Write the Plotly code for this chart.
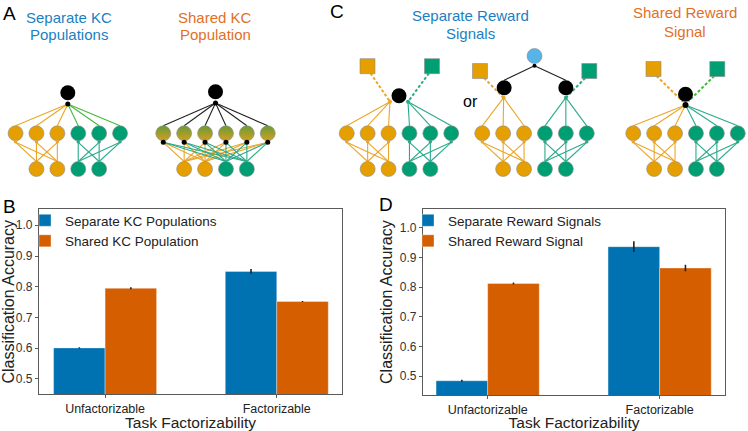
import plotly.graph_objects as go

# ---------------- data ----------------
categories = ["Unfactorizable", "Factorizable"]

kc_separate = [0.601, 0.850]
kc_separate_err = [0.002, 0.008]
kc_shared = [0.795, 0.752]
kc_shared_err = [0.003, 0.002]

reward_separate = [0.484, 0.936]
reward_separate_err = [0.003, 0.018]
reward_shared = [0.812, 0.864]
reward_shared_err = [0.003, 0.011]

ytick_vals = [0.5, 0.6, 0.7, 0.8, 0.9, 1.0]

# ---------------- styles ----------------
FONT = "Liberation Sans, Arial, sans-serif"
BLUE = "#0072B2"
VERM = "#D55E00"
ORANGE = "#E69F00"
GREEN = "#009E73"
SKY = "#56B4E9"
LINE_OR = "#EBA62A"
LINE_GR = "#2AAA8A"
LINE_BRIGHT = "#48B83E"
TITLE_BLUE = "#1b7fc2"
TITLE_OR = "#e2701f"
OUTLINE = dict(color="#8a8a8a", width=0.6)

fig = go.Figure()

# ---------------- bar charts ----------------
def add_bars(xa, ya, leg, s1, e1, s2, e2, n1, n2):
    fig.add_trace(go.Bar(x=categories, y=s1, name=n1, xaxis=xa, yaxis=ya, legend=leg,
                         marker=dict(color=BLUE, line=dict(color="rgba(255,255,255,0.35)", width=1)),
                         error_y=dict(type="data", array=e1, color="#222", thickness=1.6, width=0)))
    fig.add_trace(go.Bar(x=categories, y=s2, name=n2, xaxis=xa, yaxis=ya, legend=leg,
                         marker=dict(color=VERM, line=dict(color="rgba(255,255,255,0.35)", width=1)),
                         error_y=dict(type="data", array=e2, color="#222", thickness=1.6, width=0)))

add_bars("x", "y", "legend", kc_separate, kc_separate_err, kc_shared, kc_shared_err,
         "Separate KC Populations", "Shared KC Population")
add_bars("x2", "y2", "legend2", reward_separate, reward_separate_err, reward_shared, reward_shared_err,
         "Separate Reward Signals", "Shared Reward Signal")

# ---------------- network diagrams (pixel-like coordinate system on x3/y3) ----------------
SP = 20.9       # spacing between neighbouring KC nodes
NODE = 15       # node diameter
MID_Y = 133.3
BOT_Y = 169.0


def row_x(cx, n):
    return [cx + (i - (n - 1) / 2) * SP for i in range(n)]


def seg_trace(segs, color, width=1.1, dash=None):
    xs, ys = [], []
    for (x0, y0, x1, y1) in segs:
        xs += [x0, x1, None]
        ys += [y0, y1, None]
    fig.add_trace(go.Scatter(x=xs, y=ys, mode="lines", xaxis="x3", yaxis="y3",
                             line=dict(color=color, width=width, dash=dash),
                             hoverinfo="skip", showlegend=False))


def node_trace(xs, ys, colors, size=NODE, symbol="circle", line=OUTLINE, gradient=None):
    m = dict(color=colors, size=size, symbol=symbol, line=line)
    if gradient:
        m["gradient"] = gradient
    fig.add_trace(go.Scatter(x=xs, y=ys, mode="markers", xaxis="x3", yaxis="y3",
                             marker=m, hoverinfo="skip", showlegend=False))


def lower_layer(cx, shared):
    mids = row_x(cx, 6)
    bots = row_x(cx, 4)
    dot_y = MID_Y + 9
    or_segs, gr_segs = [], []
    for j, bx in enumerate(bots):
        targets = range(6) if shared else (range(0, 3) if j < 2 else range(3, 6))
        for i in targets:
            seg = (bx, BOT_Y - NODE / 2, mids[i], dot_y)
            (or_segs if j < 2 else gr_segs).append(seg)
    seg_trace(or_segs, LINE_OR, 1.1)
    seg_trace(gr_segs, LINE_GR, 1.1)
    return mids, bots, dot_y


def draw_kc_rows(cx, mids, bots, dot_y, shared):
    if shared:
        node_trace(mids, [MID_Y] * 6, "#6a9a38",
                   gradient=dict(type="vertical", color="#d2a01e"))
        node_trace(mids, [dot_y] * 6, "black", size=5, line=dict(width=0))
    else:
        node_trace(mids, [MID_Y] * 6, [ORANGE] * 3 + [GREEN] * 3)
        node_trace(mids, [dot_y - 0.5] * 6, [LINE_OR] * 3 + [LINE_GR] * 3, size=3.5, line=dict(width=0))
    node_trace(bots, [BOT_Y] * 4, [ORANGE, ORANGE, GREEN, GREEN])


# ---- Panel A, left: separate KC populations
cx = 67.8
mids, bots, dot_y = lower_layer(cx, False)
top_y, tdot_y = 92.7, 104.0
seg_trace([(cx, tdot_y, m, MID_Y - NODE / 2) for m in mids[:3]], LINE_OR)
seg_trace([(cx, tdot_y, m, MID_Y - NODE / 2) for m in mids[3:]], LINE_BRIGHT)
draw_kc_rows(cx, mids, bots, dot_y, False)
node_trace([cx], [top_y], "black", line=dict(width=0))
node_trace([cx], [tdot_y], "black", size=5, line=dict(width=0))

# ---- Panel A, right: shared KC population
cx = 215.5
mids, bots, dot_y = lower_layer(cx, True)
top_y, tdot_y = 91.7, 103.0
seg_trace([(cx, tdot_y, m, MID_Y - NODE / 2) for m in mids], "#222222")
draw_kc_rows(cx, mids, bots, dot_y, True)
node_trace([cx], [top_y], "black", line=dict(width=0))
node_trace([cx], [tdot_y], "black", size=5, line=dict(width=0))

# ---- Panel C, left: separate reward signals (single MBON)
cx = 399.0
mids, bots, dot_y = lower_layer(cx, False)
top_y = 95.7
odot, gdot = (cx - 9, 101.7), (cx + 9, 101.7)
sq_or, sq_gr = (cx - 31.5, 66.2), (cx + 33, 66.2)
seg_trace([(odot[0], odot[1], m, MID_Y - NODE / 2) for m in mids[:3]], LINE_OR)
seg_trace([(gdot[0], gdot[1], m, MID_Y - NODE / 2) for m in mids[3:]], LINE_GR)
seg_trace([(sq_or[0] + 3, sq_or[1] + 7, odot[0], odot[1])], LINE_OR, 2, "3px,2px")
seg_trace([(sq_gr[0] - 3, sq_gr[1] + 7, gdot[0], gdot[1])], LINE_GR, 2, "3px,2px")
draw_kc_rows(cx, mids, bots, dot_y, False)
node_trace([cx], [top_y], "black", line=dict(width=0))
node_trace([odot[0], gdot[0]], [odot[1], gdot[1]], [LINE_OR, LINE_GR], size=4, line=dict(width=0))
node_trace([sq_or[0], sq_gr[0]], [sq_or[1], sq_gr[1]], [ORANGE, GREEN], size=15, symbol="square")

# ---- Panel C, middle: separate reward signals (two MBONs + readout)
cx = 534.5
mids, bots, dot_y = lower_layer(cx, False)
blue_y, bdot_y, mb_y = 56.0, 65.7, 87.7
mb_l, mb_r = mids[1] + 1, mids[4]
odot, gdot = (mb_l - 0.5, 97.7), (mb_r, 97.7)
sq_or, sq_gr = (480.0, 71.0), (589.3, 71.0)
seg_trace([(cx, bdot_y, mb_l, mb_y - NODE / 2), (cx, bdot_y, mb_r, mb_y - NODE / 2)], "#222222")
seg_trace([(odot[0], odot[1], m, MID_Y - NODE / 2) for m in mids[:3]], LINE_OR)
seg_trace([(gdot[0], gdot[1], m, MID_Y - NODE / 2) for m in mids[3:]], LINE_GR)
seg_trace([(sq_or[0] + 4, sq_or[1] + 7, odot[0], odot[1])], LINE_OR, 2, "3px,2px")
seg_trace([(sq_gr[0] - 4, sq_gr[1] + 7, gdot[0], gdot[1])], LINE_GR, 2, "3px,2px")
draw_kc_rows(cx, mids, bots, dot_y, False)
node_trace([mb_l, mb_r], [mb_y, mb_y], "black", line=dict(width=0))
node_trace([cx], [blue_y], SKY)
node_trace([cx], [bdot_y], "black", size=4, line=dict(width=0))
node_trace([odot[0], gdot[0]], [odot[1], gdot[1]], [LINE_OR, LINE_GR], size=4, line=dict(width=0))
node_trace([sq_or[0], sq_gr[0]], [sq_or[1], sq_gr[1]], [ORANGE, GREEN], size=15, symbol="square")

# ---- Panel C, right: shared reward signal
cx = 685.5
mids, bots, dot_y = lower_layer(cx, False)
top_y, tdot_y = 94.3, 105.0
sq_or, sq_gr = (653.5, 69.0), (717.3, 69.0)
seg_trace([(cx, tdot_y, m, MID_Y - NODE / 2) for m in mids[:3]], LINE_OR)
seg_trace([(cx, tdot_y, m, MID_Y - NODE / 2) for m in mids[3:]], LINE_GR)
seg_trace([(sq_or[0] + 3, sq_or[1] + 7, cx - 2.5, 101.7)], LINE_OR, 2, "3px,2px")
seg_trace([(sq_gr[0] - 3, sq_gr[1] + 7, cx + 3, 101.2)], LINE_BRIGHT, 2, "3px,2px")
draw_kc_rows(cx, mids, bots, dot_y, False)
node_trace([cx], [top_y], "black", line=dict(width=0))
node_trace([cx], [tdot_y], "black", size=6, line=dict(width=0))
node_trace([sq_or[0], sq_gr[0]], [sq_or[1], sq_gr[1]], [ORANGE, GREEN], size=15, symbol="square")

# ---------------- text ----------------
texts = [
    ("A", 9, 13, 19, "black"), ("B", 9, 206.5, 19, "black"),
    ("C", 337, 11, 19, "black"), ("D", 385.5, 204, 19, "black"),
    ("Separate KC", 68.5, 17, 15, TITLE_BLUE), ("Populations", 68.5, 34, 15, TITLE_BLUE),
    ("Shared KC", 215, 17, 15, TITLE_OR), ("Population", 215, 34, 15, TITLE_OR),
    ("Separate Reward", 470, 15.7, 15, TITLE_BLUE), ("Signals", 470, 33.3, 15, TITLE_BLUE),
    ("Shared Reward", 685, 12.7, 15, TITLE_OR), ("Signal", 685, 31, 15, TITLE_OR),
    ("or", 470, 101.7, 16, "black"),
]
annotations = [dict(text=t, x=x, y=y, xref="x3", yref="y3", showarrow=False,
                    font=dict(size=s, color=c, family=FONT), xanchor="center", yanchor="middle")
               for (t, x, y, s, c) in texts]

W, H = 748, 431


def px_x(p):
    return p / W


def px_y(p):
    return 1 - p / H


frame = dict(showline=True, mirror=True, linecolor="#5a5a5a", linewidth=1.2,
             showgrid=False, zeroline=False)
yax = dict(frame, ticks="outside", ticklen=3, tickcolor="#5a5a5a", tickvals=ytick_vals,
           tickformat=".1f", tickfont=dict(size=12, color="#333", family=FONT),
           title=dict(text="Classification Accuracy", font=dict(size=16, color="#222", family=FONT),
                      standoff=3))
xax = dict(frame, ticks="outside", ticklen=3, tickcolor="#5a5a5a",
           tickfont=dict(size=12.5, color="#222", family=FONT),
           title=dict(text="Task Factorizability", font=dict(size=15.5, color="#222", family=FONT),
                      standoff=2))

leg = dict(bgcolor="rgba(0,0,0,0)", font=dict(size=13.5, color="#222", family=FONT),
           xanchor="left", yanchor="top", itemwidth=30, tracegroupgap=0)

fig.update_layout(
    width=W, height=H, margin=dict(l=0, r=0, t=0, b=0),
    paper_bgcolor="white", plot_bgcolor="rgba(0,0,0,0)",
    font=dict(family=FONT),
    barmode="group", bargap=0.4, bargroupgap=0,
    xaxis=dict(xax, domain=[px_x(39), px_x(342)], range=[-0.385, 1.38], anchor="y"),
    yaxis=dict(yax, domain=[px_y(394.3), px_y(209.3)], range=[0.45, 1.052], anchor="x"),
    xaxis2=dict(xax, domain=[px_x(423), px_x(725)], range=[-0.376, 1.38], anchor="y2"),
    yaxis2=dict(yax, domain=[px_y(395), px_y(209.3)], range=[0.436, 1.062], anchor="x2"),
    xaxis3=dict(domain=[0, 1], range=[0, W], visible=False, fixedrange=True, anchor="y3"),
    yaxis3=dict(domain=[0, 1], range=[H, 0], visible=False, fixedrange=True, anchor="x3"),
    legend=dict(leg, x=px_x(25), y=px_y(205)),
    legend2=dict(leg, x=px_x(408), y=px_y(205)),
    annotations=annotations,
)

fig.write_html("out.html", config={"displayModeBar": False},
               post_script="document.body.style.margin='0px';")
